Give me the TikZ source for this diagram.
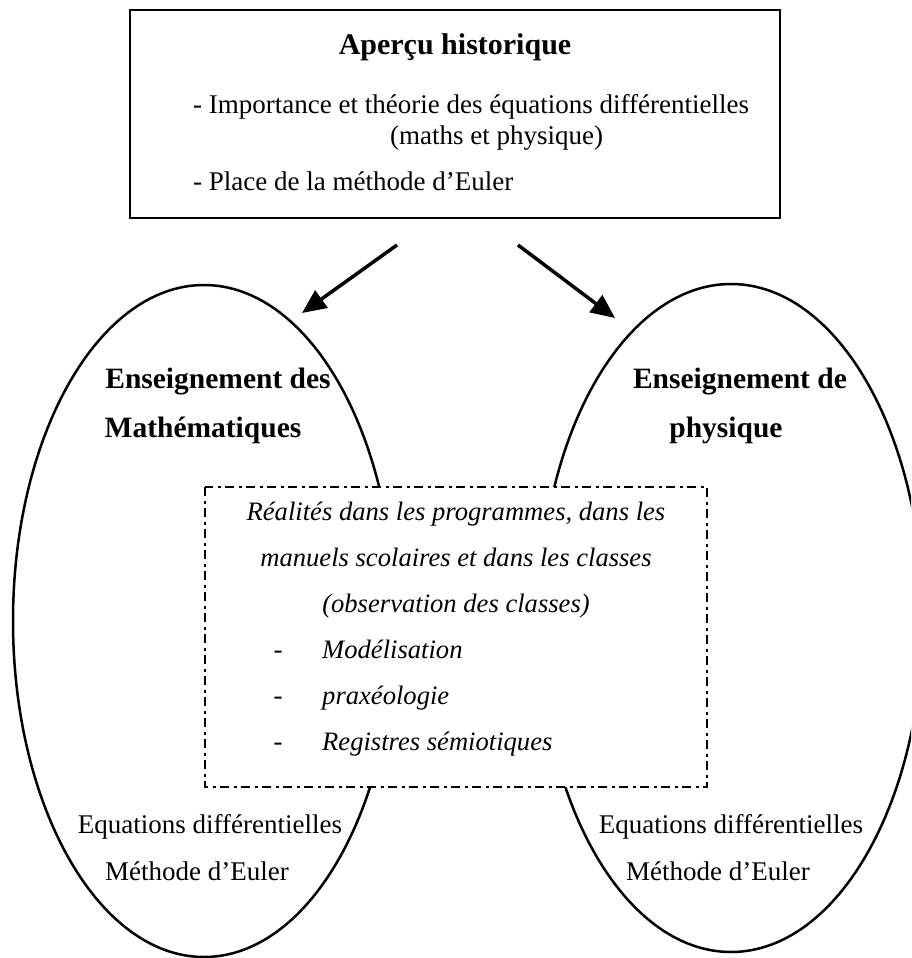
\documentclass[tikz,border=0pt]{standalone}
\usepackage{fontspec}
\setmainfont{Liberation Serif}
\usetikzlibrary{shapes.geometric,arrows.meta}
\tikzset{
  body/.style={font=\fontsize{27}{32}\selectfont, inner sep=0pt},
  ttl/.style={font=\fontsize{30}{36}\selectfont\bfseries, inner sep=0pt},
  lbl/.style={font=\fontsize{29.5}{35}\selectfont\bfseries, inner sep=0pt},
  itl/.style={font=\fontsize{26.6}{32}\selectfont\itshape, inner sep=0pt},
  oval/.style={draw, ellipse, line width=2.5pt, inner sep=0pt},
  arr/.style={line width=3.5pt, -{Triangle[length=24pt,width=21pt]}},
  dashbox/.style={draw, fill=white, line width=2.5pt, dash pattern=on 9pt off 4.5pt on 3pt off 4.5pt}
}
\begin{document}
\begin{tikzpicture}[x=1pt,y=-1pt]
\useasboundingbox (0,0) rectangle (911,958);
\clip (0,0) rectangle (911,958);
% top box
\draw[line width=2pt] (130,10) rectangle (780,218);
\node[ttl, anchor=base] (title) at (455,55) {Aperçu historique};
\node[body, anchor=base west] (imp) at (193,113) {- Importance et théorie des équations différentielles};
\node[body, anchor=base west] (mp) at (390,144) {(maths et physique)};
\node[body, anchor=base west] (pl) at (193,190) {- Place de la méthode d’Euler};
% ellipses
\node[oval, minimum width=382pt, minimum height=672pt] (ellM) at (204,621) {};
\node[oval, minimum width=384pt, minimum height=668pt] (ellP) at (731,618) {};
% arrows
\coordinate (a1s) at (397,245);
\coordinate (a1e) at (302,313);
\coordinate (a2s) at (518,245);
\coordinate (a2e) at (615,318);
\draw[arr] (a1s) -- (a1e);
\draw[arr] (a2s) -- (a2e);
% labels in ellipses
\node[lbl, anchor=base] (em1) at (218,388) {Enseignement des};
\node[lbl, anchor=base] (em2) at (203,437) {Mathématiques};
\node[lbl, anchor=base] (ep1) at (740,388) {Enseignement de};
\node[lbl, anchor=base] (ep2) at (726,437) {physique};
\node[body, anchor=base] (ed1) at (210,833) {Equations différentielles};
\node[body, anchor=base] (ed2) at (197,880) {Méthode d’Euler};
\node[body, anchor=base] (pd1) at (731,833) {Equations différentielles};
\node[body, anchor=base] (pd2) at (718,880) {Méthode d’Euler};
% central dash-dot box
\draw[dashbox] (205,487) rectangle (707,787);
\node[itl, anchor=base] (r1) at (456,520) {Réalités dans les programmes, dans les};
\node[itl, anchor=base] (r2) at (456,566) {manuels scolaires et dans les classes};
\node[itl, anchor=base] (r3) at (456,612) {(observation des classes)};
\node[body, anchor=base] (d1) at (278,658) {-};
\node[body, anchor=base] (d2) at (278,704) {-};
\node[body, anchor=base] (d3) at (278,750) {-};
\node[itl, anchor=base west] (i1) at (322,658) {Modélisation};
\node[itl, anchor=base west] (i2) at (322,704) {praxéologie};
\node[itl, anchor=base west] (i3) at (322,750) {Registres sémiotiques};
\end{tikzpicture}
\end{document}
